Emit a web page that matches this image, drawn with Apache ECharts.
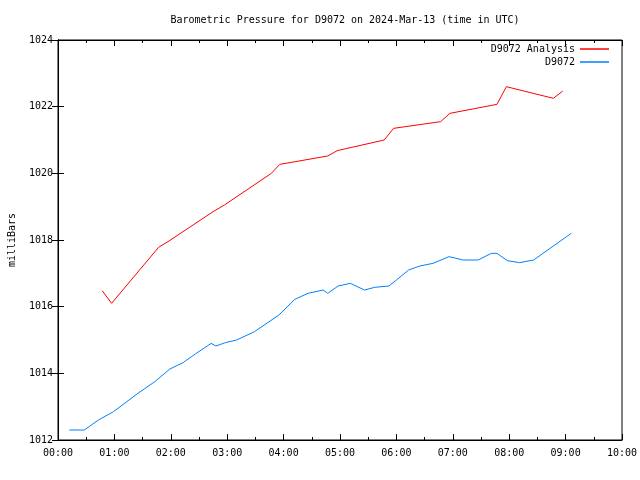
<!DOCTYPE html>
<html>
<head>
<meta charset="utf-8">
<script src="https://cdn.jsdelivr.net/npm/echarts@6/dist/echarts.min.js"></script>
<style>html,body{margin:0;padding:0;background:#fff}#c{width:640px;height:480px}</style>
</head>
<body>
<div id="c"></div>
<script>
// Times in minutes since 00:00 UTC
var analysisTimes = [47, 57, 107, 117, 165, 177, 227, 236, 287, 297, 347, 357, 407, 417, 467, 477, 527, 537];
var analysisValues = [1016.48, 1016.10, 1017.78, 1017.95, 1018.85, 1019.05, 1020.00, 1020.27, 1020.52, 1020.68, 1021.00, 1021.35, 1021.55, 1021.80, 1022.07, 1022.60, 1022.25, 1022.47];

var obsTimes = [12, 28, 43, 59, 85, 103, 119, 133, 146, 163, 168, 178, 190, 209, 235, 252, 266, 282, 287, 298, 311, 326, 337, 352, 360, 373, 385, 399, 416, 431, 447, 461, 467, 478, 491, 506, 516, 546];
var obsValues = [1012.30, 1012.30, 1012.60, 1012.85, 1013.40, 1013.75, 1014.13, 1014.32, 1014.58, 1014.90, 1014.82, 1014.92, 1015.00, 1015.25, 1015.75, 1016.22, 1016.40, 1016.50, 1016.40, 1016.62, 1016.70, 1016.50, 1016.58, 1016.62, 1016.80, 1017.10, 1017.22, 1017.30, 1017.50, 1017.40, 1017.40, 1017.60, 1017.60, 1017.38, 1017.32, 1017.40, 1017.60, 1018.20];

var xTickLabels = ['00:00','01:00','02:00','03:00','04:00','05:00','06:00','07:00','08:00','09:00','10:00'];
var yTicks = [1012, 1014, 1016, 1018, 1020, 1022, 1024];

function pairs(xs, ys){ return xs.map(function(x,i){ return [x, ys[i]]; }); }

var FONT = 'DejaVu Sans Mono';
var chart = echarts.init(document.getElementById('c'), null, {renderer:'canvas'});
chart.setOption({
  animation: false,
  backgroundColor: '#fff',
  title: {
    text: 'Barometric Pressure for D9072 on 2024-Mar-13 (time in UTC)',
    left: 340, textAlign: 'center', top: 10,
    textStyle: {fontFamily: FONT, fontSize: 10, fontWeight: 'normal', color: '#000'}
  },
  legend: [
    {data: ['D9072 Analysis'], right: 26, top: 39, align: 'right', icon: 'rect', itemWidth: 29, itemHeight: 1.5,
     textStyle: {fontFamily: FONT, fontSize: 10, color: '#000'}, itemGap: 0, selectedMode: false},
    {data: ['D9072'], right: 26, top: 52, align: 'right', icon: 'rect', itemWidth: 29, itemHeight: 1.5,
     textStyle: {fontFamily: FONT, fontSize: 10, color: '#000'}, itemGap: 0, selectedMode: false}
  ],
  grid: {left: 58, right: 18, top: 40, bottom: 40, containLabel: false, outerBoundsMode: 'none',
         show: true, borderColor: '#000', borderWidth: 1, backgroundColor: 'transparent'},
  xAxis: [
    {type: 'value', min: 0, max: 600, interval: 60, position: 'bottom',
     axisLine: {show: true, lineStyle: {color: '#000'}},
     axisTick: {show: true, inside: true, length: 6, lineStyle: {color: '#000'}},
     minorTick: {show: true, splitNumber: 2, length: 3, lineStyle: {color: '#000'}},
     splitLine: {show: false},
     axisLabel: {fontFamily: FONT, fontSize: 10, color: '#000', margin: 8,
       formatter: function(v){ return xTickLabels[Math.round(v/60)]; }}},
    {type: 'value', min: 0, max: 600, interval: 60, position: 'top',
     axisLine: {show: true, lineStyle: {color: '#000'}},
     axisTick: {show: true, inside: true, length: 6, lineStyle: {color: '#000'}},
     minorTick: {show: true, splitNumber: 2, length: 3, lineStyle: {color: '#000'}},
     splitLine: {show: false}, axisLabel: {show: false}}
  ],
  yAxis: [
    {type: 'value', min: 1012, max: 1024, interval: 2, position: 'left',
     name: 'milliBars', nameLocation: 'middle', nameGap: 41, nameRotate: 90,
     nameTextStyle: {fontFamily: FONT, fontSize: 10, color: '#000'},
     axisLine: {show: true, lineStyle: {color: '#000'}},
     axisTick: {show: true, inside: true, length: 6, lineStyle: {color: '#000'}},
     splitLine: {show: false},
     axisLabel: {fontFamily: FONT, fontSize: 10, color: '#000', margin: 5,
       formatter: function(v){ return yTicks.indexOf(v) >= 0 ? String(v) : ''; }}},
    {type: 'value', min: 1012, max: 1024, interval: 2, position: 'right',
     axisLine: {show: true, lineStyle: {color: '#000'}},
     axisTick: {show: true, inside: true, length: 6, lineStyle: {color: '#000'}},
     splitLine: {show: false}, axisLabel: {show: false}}
  ],
  series: [
    {name: 'D9072 Analysis', type: 'line', xAxisIndex: 0, yAxisIndex: 0, data: pairs(analysisTimes, analysisValues),
     showSymbol: false, symbol: 'none', color: '#ff0000', lineStyle: {color: '#ff0000', width: 1}},
    {name: 'D9072', type: 'line', xAxisIndex: 0, yAxisIndex: 0, data: pairs(obsTimes, obsValues),
     showSymbol: false, symbol: 'none', color: '#0080ff', lineStyle: {color: '#0080ff', width: 1}}
  ]
});
</script>
</body>
</html>
